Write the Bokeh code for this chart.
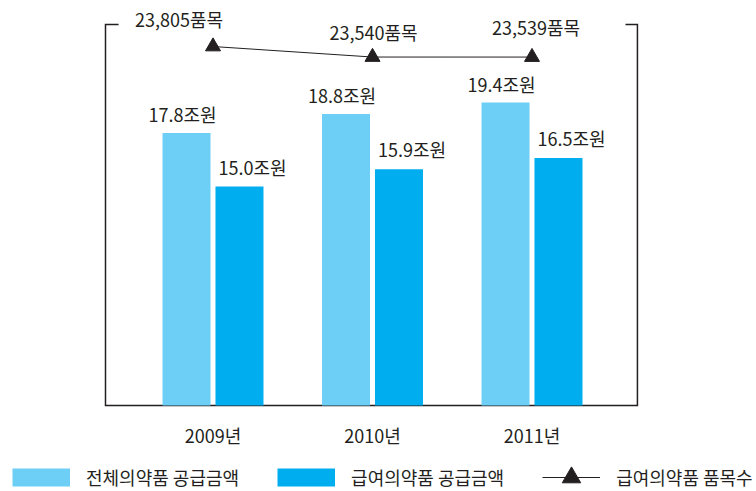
from bokeh.plotting import figure
from bokeh.models import Range1d, ColumnDataSource, Legend, LegendItem
from bokeh.core.properties import value
from bokeh.embed import file_html
from bokeh.resources import INLINE

# ---------------- data ----------------
years = ["2009년", "2010년", "2011년"]
total_supply = [17.8, 18.8, 19.4]        # 전체의약품 공급금액 (조원)
benefit_supply = [15.0, 15.9, 16.5]      # 급여의약품 공급금액 (조원)
benefit_items = [23805, 23540, 23539]    # 급여의약품 품목수

total_labels = [f"{v:.1f}조원" for v in total_supply]
benefit_labels = [f"{v:.1f}조원" for v in benefit_supply]
item_labels = [f"{v:,}품목" for v in benefit_items]

# ---------------- style / layout ----------------
FONT = "Noto Sans CJK KR"
TEXT = "#231f20"
LIGHT = "#6dcff6"
DARK = "#00aeef"
FS = "18px"
BAR_W = 0.301
DODGE = 0.166
ITEM_DX = [-34, 1, 4]
ITEM_DY = [-28, -25, -30]
# chart box (in the bar value scale)
BOX_L, BOX_R = -0.674, 2.661
BASE, BOX_T = 3.53, 23.488
TICK_L, TICK_R = 0.082, 0.075
NAN = float("nan")

idx = list(range(len(years)))
x_total = [i - DODGE for i in idx]
x_benefit = [i + DODGE for i in idx]

p = figure(width=756, height=491,
           x_range=Range1d(-1.3323, 3.4075), y_range=Range1d(-0.975, 24.745),
           output_backend="svg", toolbar_location=None,
           x_axis_location=None, y_axis_location=None,
           min_border=0)
p.extra_y_ranges = {"items": Range1d(12590.6, 24964.8)}
p.outline_line_color = None
p.xgrid.visible = False
p.ygrid.visible = False
p.background_fill_color = "white"
p.border_fill_color = "white"

# chart box: left, bottom and right sides, with short ticks at the top
p.line(x=[BOX_L + TICK_L, BOX_L, BOX_L, BOX_R, BOX_R, BOX_R - TICK_R],
       y=[BOX_T, BOX_T, BASE, BASE, BOX_T, BOX_T],
       line_color=TEXT, line_width=1.5, line_join="miter")

# year labels under the box
p.text(x=idx, y=[BASE] * len(idx), text=years, text_font=value(FONT),
       text_font_size=FS, text_color=TEXT, text_align="center",
       text_baseline="middle", y_offset=30)

# bars
src_t = ColumnDataSource(dict(x=x_total, top=total_supply, lab=total_labels))
src_b = ColumnDataSource(dict(x=x_benefit, top=benefit_supply, lab=benefit_labels))
p.vbar(x="x", top="top", bottom=BASE, width=BAR_W, source=src_t,
       fill_color=LIGHT, line_color=None)
p.vbar(x="x", top="top", bottom=BASE, width=BAR_W, source=src_b,
       fill_color=DARK, line_color=None)
p.text(x="x", y="top", text="lab", source=src_t, text_font=value(FONT),
       text_font_size=FS, text_color=TEXT, text_align="center",
       text_baseline="middle", x_offset=-4, y_offset=-19)
p.text(x="x", y="top", text="lab", source=src_b, text_font=value(FONT),
       text_font_size=FS, text_color=TEXT, text_align="center",
       text_baseline="middle", x_offset=13, y_offset=-20)

# line of item counts
src_i = ColumnDataSource(dict(x=idx, y=benefit_items, lab=item_labels,
                              dx=ITEM_DX, dy=ITEM_DY))
line_r = p.line(x="x", y="y", source=src_i, y_range_name="items",
                line_color=TEXT, line_width=1)
tri_r = p.scatter(x="x", y="y", source=src_i, y_range_name="items",
                  marker="triangle", size=15, fill_color=TEXT, line_color=TEXT)
p.text(x="x", y="y", text="lab", source=src_i, y_range_name="items",
       text_font=value(FONT), text_font_size=FS, text_color=TEXT,
       text_align="center", text_baseline="middle",
       x_offset="dx", y_offset="dy")

# legend (swatches via thick lines that draw nothing in the plot)
sw_t = p.line(x=[NAN], y=[NAN], line_width=18, line_color=LIGHT)
sw_b = p.line(x=[NAN], y=[NAN], line_width=18, line_color=DARK)
legend = Legend(items=[
    LegendItem(label=value("전체의약품 공급금액"), renderers=[sw_t]),
    LegendItem(label=value("급여의약품 공급금액"), renderers=[sw_b]),
    LegendItem(label=value("급여의약품 품목수"), renderers=[line_r, tri_r]),
], location=(12, -9), orientation="horizontal",
    glyph_width=58, glyph_height=46, label_standoff=16, spacing=38,
    padding=0, margin=0, border_line_color=None, background_fill_color=None,
    label_text_font=FONT, label_text_font_size=FS, label_text_color=TEXT)
p.add_layout(legend, "center")

open("out.html", "w").write(file_html(p, INLINE))
